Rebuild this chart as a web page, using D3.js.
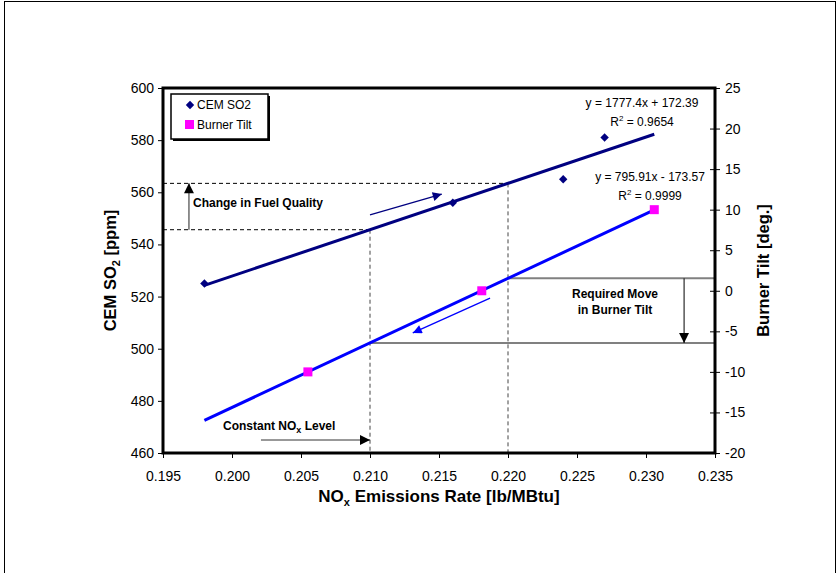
<!DOCTYPE html>
<html>
<head>
<meta charset="utf-8">
<script src="https://cdn.jsdelivr.net/npm/d3@7"></script>
<style>
  body { margin: 0; background: #fff; }
  svg { display: block; font-family: "Liberation Sans", Arial, sans-serif; }
</style>
</head>
<body>
<svg id="chart"></svg>
<script>
// SO2 vs NOx with burner tilt on a second axis — two linear fits and the
// "constant NOx" construction lines drawn on top.

const so2X = [0.198, 0.216, 0.224, 0.227];
const so2Y = [525, 556, 565, 581];
const tiltX = [0.2055, 0.2181, 0.2306];
const tiltY = [-10, 0, 10];

const so2Fit = [1777.4, 172.39];     // slope, intercept
const tiltFit = [795.91, -173.57];
const fitRange = [0.198, 0.2306];

const xTicks = [0.195, 0.200, 0.205, 0.210, 0.215, 0.220, 0.225, 0.230, 0.235];
const leftTicks = [460, 480, 500, 520, 540, 560, 580, 600];
const rightTicks = [-20, -15, -10, -5, 0, 5, 10, 15, 20, 25];

const noxLevels = [0.210, 0.220];    // constant NOx construction lines

(function () {
  const W = 839, H = 573;
  const P = { left: 163, right: 715, top: 88, bottom: 453 };

  const NAVY = "#000080", BLUE = "#0000ff", MAGENTA = "#ff00ff";

  const svg = d3.select("#chart").attr("width", W).attr("height", H);

  // outer frame
  svg.append("rect")
    .attr("x", 4.5).attr("y", 1.5).attr("width", 831).attr("height", 600)
    .attr("fill", "none").attr("stroke", "#000").attr("stroke-width", 1);

  const x = d3.scaleLinear().domain([0.195, 0.235]).range([P.left, P.right]);
  const yL = d3.scaleLinear().domain([460, 600]).range([P.bottom, P.top]);
  const yR = d3.scaleLinear().domain([-20, 25]).range([P.bottom, P.top]);

  const so2 = v => so2Fit[0] * v + so2Fit[1];
  const tilt = v => tiltFit[0] * v + tiltFit[1];

  // arrow heads
  const defs = svg.append("defs");
  function marker(id, color, w, h) {
    defs.append("marker")
      .attr("id", id).attr("viewBox", "0 0 10 10")
      .attr("refX", 10).attr("refY", 5)
      .attr("markerUnits", "userSpaceOnUse")
      .attr("markerWidth", w).attr("markerHeight", h)
      .attr("orient", "auto")
      .append("path").attr("d", "M0,0 L10,5 L0,10 Z").attr("fill", color);
  }
  marker("headBlack", "#000", 12, 10);
  marker("headNavy", NAVY, 12, 9);
  marker("headBlue", BLUE, 12, 9);

  // axes
  const fmt = d3.format(".3f");
  const plain = d => String(d);
  const gx = svg.append("g").attr("transform", `translate(0,${P.bottom})`)
    .call(d3.axisBottom(x).tickValues(xTicks).tickFormat(fmt).tickSizeOuter(0).tickSize(5).tickPadding(13));
  const gl = svg.append("g").attr("transform", `translate(${P.left},0)`)
    .call(d3.axisLeft(yL).tickValues(leftTicks).tickFormat(plain).tickSizeOuter(0).tickSize(5).tickPadding(4));
  const gr = svg.append("g").attr("transform", `translate(${P.right},0)`)
    .call(d3.axisRight(yR).tickValues(rightTicks).tickFormat(plain).tickSizeOuter(0).tickSize(5).tickPadding(5));
  gr.selectAll(".tick line").attr("x1", -5);
  [gx, gl, gr].forEach(g => {
    g.select(".domain").remove();
    g.selectAll(".tick line").attr("stroke", "#000").attr("stroke-width", 1);
    g.selectAll(".tick text").attr("font-size", 14).attr("fill", "#000")
      .attr("font-family", "Liberation Sans, Arial, sans-serif");
  });

  // construction lines (dashed)
  const dash = "4 3";
  noxLevels.forEach(n => {
    svg.append("line")
      .attr("x1", P.left).attr("x2", x(n))
      .attr("y1", yL(so2(n))).attr("y2", yL(so2(n)))
      .attr("stroke", "#000").attr("stroke-dasharray", dash).attr("stroke-width", 1);
    svg.append("line")
      .attr("x1", x(n)).attr("x2", x(n))
      .attr("y1", yL(so2(n))).attr("y2", P.bottom)
      .attr("stroke", "#444").attr("stroke-dasharray", dash).attr("stroke-width", 1);
    // solid gray tilt level
    svg.append("line")
      .attr("x1", x(n)).attr("x2", P.right)
      .attr("y1", yR(tilt(n))).attr("y2", yR(tilt(n)))
      .attr("stroke", "#808080").attr("stroke-width", 2);
  });

  // trend lines
  svg.append("line")
    .attr("x1", x(fitRange[0])).attr("x2", x(fitRange[1]))
    .attr("y1", yL(so2(fitRange[0]))).attr("y2", yL(so2(fitRange[1])))
    .attr("stroke", NAVY).attr("stroke-width", 3);
  svg.append("line")
    .attr("x1", x(fitRange[0])).attr("x2", x(fitRange[1]))
    .attr("y1", yR(tilt(fitRange[0]))).attr("y2", yR(tilt(fitRange[1])))
    .attr("stroke", BLUE).attr("stroke-width", 3);

  // points
  const diamond = d3.symbol().type(d3.symbolDiamond2).size(45);
  svg.append("g").selectAll("path").data(so2X).enter().append("path")
    .attr("d", diamond)
    .attr("transform", (d, i) => `translate(${x(d)},${yL(so2Y[i])})`)
    .attr("fill", NAVY);
  svg.append("g").selectAll("rect").data(tiltX).enter().append("rect")
    .attr("x", d => x(d) - 4.5).attr("y", (d, i) => yR(tiltY[i]) - 4.5)
    .attr("width", 9).attr("height", 9)
    .attr("fill", MAGENTA);

  // direction arrows along the fits
  svg.append("line")
    .attr("x1", x(0.2100)).attr("y1", yL(551.3))
    .attr("x2", x(0.2152)).attr("y2", yL(559.3))
    .attr("stroke", NAVY).attr("stroke-width", 1.3).attr("marker-end", "url(#headNavy)");
  svg.append("line")
    .attr("x1", x(0.2187)).attr("y1", yR(-0.9))
    .attr("x2", x(0.2131)).attr("y2", yR(-5.2))
    .attr("stroke", BLUE).attr("stroke-width", 1.3).attr("marker-end", "url(#headBlue)");

  // change in fuel quality arrow
  svg.append("line")
    .attr("x1", x(0.19688)).attr("x2", x(0.19688))
    .attr("y1", yL(so2(noxLevels[0]))).attr("y2", yL(so2(noxLevels[1])))
    .attr("stroke", "#555").attr("stroke-width", 1.3).attr("marker-end", "url(#headBlack)");
  svg.append("text")
    .attr("x", 193).attr("y", 207)
    .attr("font-size", 12).attr("font-weight", "bold")
    .text("Change in Fuel Quality");

  // required move in burner tilt arrow
  svg.append("line")
    .attr("x1", x(0.23276)).attr("x2", x(0.23276))
    .attr("y1", yR(tilt(noxLevels[1]))).attr("y2", yR(tilt(noxLevels[0])))
    .attr("stroke", "#000").attr("stroke-width", 1).attr("marker-end", "url(#headBlack)");
  svg.append("text")
    .attr("x", 615).attr("y", 298).attr("text-anchor", "middle")
    .attr("font-size", 12).attr("font-weight", "bold")
    .text("Required Move");
  svg.append("text")
    .attr("x", 615).attr("y", 314).attr("text-anchor", "middle")
    .attr("font-size", 12).attr("font-weight", "bold")
    .text("in Burner Tilt");

  // constant NOx arrow
  svg.append("line")
    .attr("x1", x(0.2021)).attr("x2", x(noxLevels[0]))
    .attr("y1", 440).attr("y2", 440)
    .attr("stroke", "#333").attr("stroke-width", 1).attr("marker-end", "url(#headBlack)");
  const cn = svg.append("text")
    .attr("x", 223).attr("y", 430)
    .attr("font-size", 12).attr("font-weight", "bold");
  cn.append("tspan").text("Constant NO");
  cn.append("tspan").attr("font-size", 9).attr("dy", 3).text("x");
  cn.append("tspan").attr("dy", -3).text(" Level");

  // plot border
  svg.append("rect")
    .attr("x", P.left).attr("y", P.top)
    .attr("width", P.right - P.left).attr("height", P.bottom - P.top)
    .attr("fill", "none").attr("stroke", "#000").attr("stroke-width", 3);

  // legend
  svg.append("rect").attr("x", 173).attr("y", 96).attr("width", 97).attr("height", 45).attr("fill", "#000");
  svg.append("rect").attr("x", 171).attr("y", 94).attr("width", 97).attr("height", 45)
    .attr("fill", "#fff").attr("stroke", "#000").attr("stroke-width", 1.5);
  svg.append("path").attr("d", diamond)
    .attr("transform", "translate(190,105)").attr("fill", NAVY);
  svg.append("text").attr("x", 197).attr("y", 109).attr("font-size", 12).text("CEM SO2");
  svg.append("rect").attr("x", 185).attr("y", 120).attr("width", 9).attr("height", 9).attr("fill", MAGENTA);
  svg.append("text").attr("x", 197).attr("y", 129).attr("font-size", 12).text("Burner Tilt");

  // fit equations
  function eq(cx, cy, fit, r2) {
    const s = fit[1] < 0 ? " - " : " + ";
    svg.append("text").attr("x", cx).attr("y", cy).attr("text-anchor", "middle")
      .attr("font-size", 12).text(`y = ${fit[0]}x${s}${Math.abs(fit[1])}`);
    const t = svg.append("text").attr("x", cx).attr("y", cy + 19).attr("text-anchor", "middle")
      .attr("font-size", 12);
    t.append("tspan").text("R");
    t.append("tspan").attr("font-size", 8).attr("dy", -5).text("2");
    t.append("tspan").attr("dy", 5).text(` = ${r2}`);
  }
  eq(642, 107, so2Fit, "0.9654");
  eq(650, 181, tiltFit, "0.9999");

  // axis titles
  const xt = svg.append("text").attr("x", 439).attr("y", 502).attr("text-anchor", "middle")
    .attr("font-size", 17).attr("font-weight", "bold");
  xt.append("tspan").text("NO");
  xt.append("tspan").attr("font-size", 11).attr("dy", 4).text("x");
  xt.append("tspan").attr("dy", -4).text(" Emissions Rate [lb/MBtu]");

  const yt = svg.append("text")
    .attr("transform", `translate(116,${(P.top + P.bottom) / 2}) rotate(-90)`)
    .attr("text-anchor", "middle").attr("font-size", 16.5).attr("font-weight", "bold");
  yt.append("tspan").text("CEM SO");
  yt.append("tspan").attr("font-size", 11).attr("dy", 4).text("2");
  yt.append("tspan").attr("dy", -4).text(" [ppm]");

  svg.append("text")
    .attr("transform", `translate(769,${(P.top + P.bottom) / 2}) rotate(-90)`)
    .attr("text-anchor", "middle").attr("font-size", 16.5).attr("font-weight", "bold")
    .text("Burner Tilt [deg.]");
})();
</script>
</body>
</html>
